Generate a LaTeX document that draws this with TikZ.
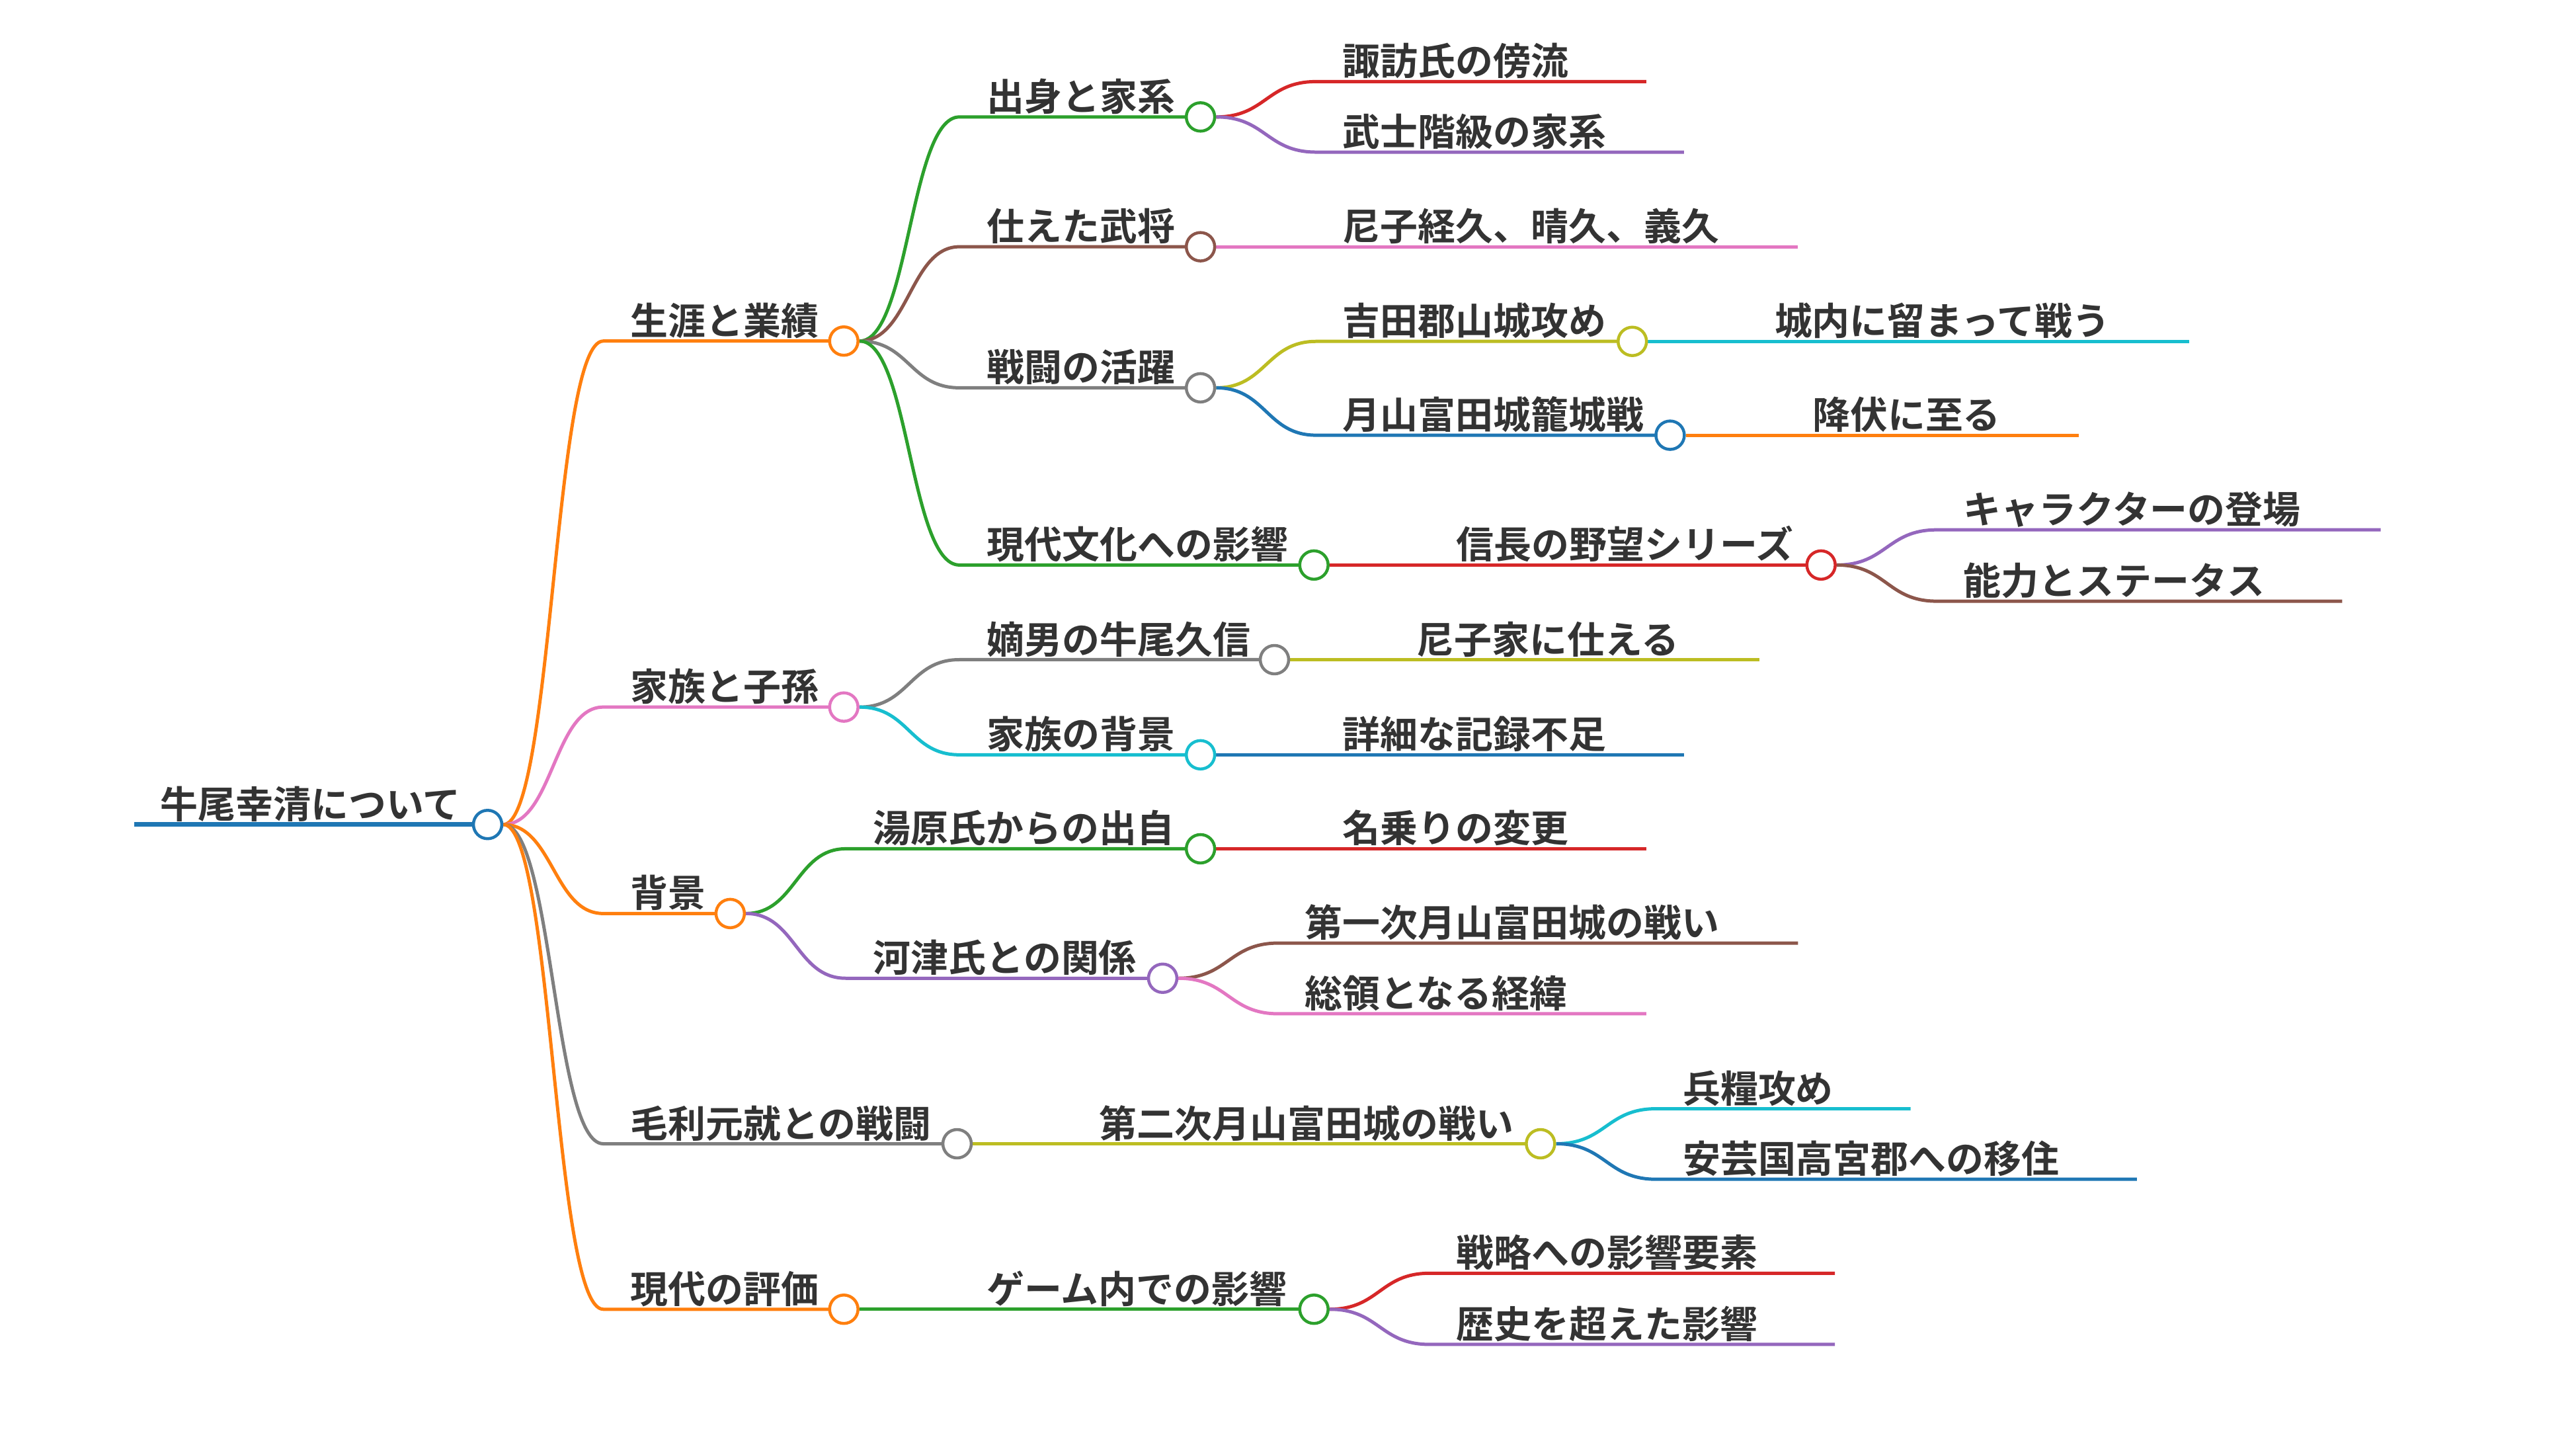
\documentclass[tikz,border=0pt]{standalone}
\usepackage{fontspec}
\newfontfamily\jpfont{Noto Sans CJK JP}[UprightFont=* Bold]
\usepackage{tikz}
\usetikzlibrary{positioning}

\definecolor{ink}{HTML}{333333}
\definecolor{c-blue}{HTML}{1F77B4}
\definecolor{c-orange}{HTML}{FF7F0E}
\definecolor{c-green}{HTML}{2CA02C}
\definecolor{c-red}{HTML}{D62728}
\definecolor{c-purple}{HTML}{9467BD}
\definecolor{c-brown}{HTML}{8C564B}
\definecolor{c-pink}{HTML}{E377C2}
\definecolor{c-gray}{HTML}{7F7F7F}
\definecolor{c-olive}{HTML}{BCBD22}
\definecolor{c-cyan}{HTML}{17BECF}

\pgfdeclarelayer{links}
\pgfsetlayers{links,main}

\begin{document}
\begin{tikzpicture}[x=1pt,y=-1pt,
    knob/.style={
% The shape:
circle, fill=white,
% The size:
minimum size=17.2pt, inner sep=0pt,
% The border:
line width=1.8pt, draw=#1,
},
    topic/.style={
% The text:
anchor=base west, inner sep=0pt, text=ink,
font=\jpfont\fontsize{22.8}{26}\selectfont,
},
    link/.style={
% The line:
line width=2pt, draw=#1,
},
]
  \useasboundingbox (0,0) rectangle (1560,873.3);

  % knobs
  \node[knob=c-blue]   (root)    at (295.3,499.2) {};
  \node[knob=c-orange] (life)    at (511,206.5) {};
  \node[knob=c-pink]   (family)  at (511,428.1) {};
  \node[knob=c-orange] (backg)   at (442.2,553.1) {};
  \node[knob=c-gray]   (mori)    at (579.6,692.5) {};
  \node[knob=c-orange] (modern)  at (511,792.7) {};
  \node[knob=c-green]  (origin)  at (727,70.8) {};
  \node[knob=c-brown]  (lords)   at (727,149.4) {};
  \node[knob=c-gray]   (battle)  at (727,234.8) {};
  \node[knob=c-green]  (culture) at (795.7,342.1) {};
  \node[knob=c-olive]  (yoshida) at (988.5,206.7) {};
  \node[knob=c-blue]   (toda)    at (1011.4,263.5) {};
  \node[knob=c-red]    (nobu)    at (1102.8,342.1) {};
  \node[knob=c-gray]   (heir)    at (771.8,399.4) {};
  \node[knob=c-cyan]   (famback) at (727,457.0) {};
  \node[knob=c-green]  (yubara)  at (727,513.9) {};
  \node[knob=c-purple] (kawazu)  at (704.1,592.3) {};
  \node[knob=c-olive]  (second)  at (932.9,692.5) {};
  \node[knob=c-green]  (game)    at (795.7,792.7) {};

  % texts
  \node[topic] (t-root)     at (97,495.4)     {牛尾幸清について};
  \node[topic] (t-life)     at (381.5,202.7)  {生涯と業績};
  \node[topic] (t-family)   at (381.5,424.3)  {家族と子孫};
  \node[topic] (t-backg)    at (381.5,549.3)  {背景};
  \node[topic] (t-mori)     at (381.5,688.7)  {毛利元就との戦闘};
  \node[topic] (t-modern)   at (381.5,788.9)  {現代の評価};
  \node[topic] (t-origin)   at (597.5,67)     {出身と家系};
  \node[topic] (t-lords)    at (597.5,145.6)  {仕えた武将};
  \node[topic] (t-battle)   at (597.5,231)    {戦闘の活躍};
  \node[topic] (t-culture)  at (597.5,338.3)  {現代文化への影響};
  \node[topic] (t-suwa)     at (813,45.6)     {諏訪氏の傍流};
  \node[topic] (t-bushi)    at (813,88.3)     {武士階級の家系};
  \node[topic] (t-amago)    at (813,145.6)    {尼子経久、晴久、義久};
  \node[topic] (t-yoshida)  at (813,202.9)    {吉田郡山城攻め};
  \node[topic] (t-joubu)    at (1074.5,202.9) {城内に留まって戦う};
  \node[topic] (t-toda)     at (813,259.7)    {月山富田城籠城戦};
  \node[topic] (t-kofuku)   at (1097.4,259.7) {降伏に至る};
  \node[topic] (t-nobu)     at (881.7,338.3)  {信長の野望シリーズ};
  \node[topic] (t-chara)    at (1188.8,317)   {キャラクターの登場};
  \node[topic] (t-stat)     at (1188.8,360.2) {能力とステータス};
  \node[topic] (t-heir)     at (597.5,395.6)  {嫡男の牛尾久信};
  \node[topic] (t-amagoke)  at (857.8,395.6)  {尼子家に仕える};
  \node[topic] (t-famback)  at (597.5,453.2)  {家族の背景};
  \node[topic] (t-kiroku)   at (813,453.2)    {詳細な記録不足};
  \node[topic] (t-yubara)   at (528.7,510.1)  {湯原氏からの出自};
  \node[topic] (t-nanori)   at (813,510.1)    {名乗りの変更};
  \node[topic] (t-kawazu)   at (528.7,588.5)  {河津氏との関係};
  \node[topic] (t-first)    at (790.1,567.2)  {第一次月山富田城の戦い};
  \node[topic] (t-soryo)    at (790.1,610)    {総領となる経緯};
  \node[topic] (t-second)   at (665.6,688.7)  {第二次月山富田城の戦い};
  \node[topic] (t-hyoro)    at (1018.9,667.5) {兵糧攻め};
  \node[topic] (t-aki)      at (1018.9,710.2) {安芸国高宮郡への移住};
  \node[topic] (t-game)     at (597.5,788.9)  {ゲーム内での影響};
  \node[topic] (t-senryaku) at (881.7,767.1)  {戦略への影響要素};
  \node[topic] (t-rekishi)  at (881.7,810.2)  {歴史を超えた影響};

  % line ends
  \coordinate (root-start)   at (81.2,499.2);
  \coordinate (suwa-end)     at (997,49.4);
  \coordinate (bushi-end)    at (1019.8,92.1);
  \coordinate (amago-end)    at (1088.9,149.4);
  \coordinate (joubu-end)    at (1325.9,206.7);
  \coordinate (kofuku-end)   at (1258.8,263.5);
  \coordinate (chara-end)    at (1441.7,320.8);
  \coordinate (stat-end)     at (1418.4,364.0);
  \coordinate (amagoke-end)  at (1065.5,399.4);
  \coordinate (kiroku-end)   at (1019.8,457.0);
  \coordinate (nanori-end)   at (997,513.9);
  \coordinate (first-end)    at (1088.9,571.0);
  \coordinate (soryo-end)    at (997,613.8);
  \coordinate (hyoro-end)    at (1157,671.3);
  \coordinate (aki-end)      at (1294.1,714.0);
  \coordinate (senryaku-end) at (1111.2,770.9);
  \coordinate (rekishi-end)  at (1111.2,814.0);

  \begin{pgfonlayer}{links}
  \draw[link=c-blue, line width=2.7pt] (root-start) -- (root.center);
  \draw[link=c-orange] (root.east) .. controls +(30,0) and +(-30,0) .. (365.3,206.5) -- (life.center);
  \draw[link=c-pink]   (root.east) .. controls +(30,0) and +(-30,0) .. (365.3,428.1) -- (family.center);
  \draw[link=c-orange] (root.east) .. controls +(30,0) and +(-30,0) .. (365.3,553.1) -- (backg.center);
  \draw[link=c-gray]   (root.east) .. controls +(30,0) and +(-30,0) .. (365.3,692.5) -- (mori.center);
  \draw[link=c-orange] (root.east) .. controls +(30,0) and +(-30,0) .. (365.3,792.7) -- (modern.center);

  \draw[link=c-green]  (life.east) .. controls +(30,0) and +(-30,0) .. (581,70.8) -- (origin.center);
  \draw[link=c-brown]  (life.east) .. controls +(30,0) and +(-30,0) .. (581,149.4) -- (lords.center);
  \draw[link=c-gray]   (life.east) .. controls +(30,0) and +(-30,0) .. (581,234.8) -- (battle.center);
  \draw[link=c-green]  (life.east) .. controls +(30,0) and +(-30,0) .. (581,342.1) -- (culture.center);

  \draw[link=c-red]    (origin.east) .. controls +(30,0) and +(-30,0) .. (797,49.4) -- (suwa-end);
  \draw[link=c-purple] (origin.east) .. controls +(30,0) and +(-30,0) .. (797,92.1) -- (bushi-end);
  \draw[link=c-pink]   (lords.east) -- (amago-end);
  \draw[link=c-olive]  (battle.east) .. controls +(30,0) and +(-30,0) .. (797,206.7) -- (yoshida.center);
  \draw[link=c-blue]   (battle.east) .. controls +(30,0) and +(-30,0) .. (797,263.5) -- (toda.center);
  \draw[link=c-cyan]   (yoshida.east) -- (joubu-end);
  \draw[link=c-orange] (toda.east) -- (kofuku-end);
  \draw[link=c-red]    (culture.east) -- (nobu.center);
  \draw[link=c-purple] (nobu.east) .. controls +(30,0) and +(-30,0) .. (1172.8,320.8) -- (chara-end);
  \draw[link=c-brown]  (nobu.east) .. controls +(30,0) and +(-30,0) .. (1172.8,364.0) -- (stat-end);

  \draw[link=c-gray]   (family.east) .. controls +(30,0) and +(-30,0) .. (581,399.4) -- (heir.center);
  \draw[link=c-cyan]   (family.east) .. controls +(30,0) and +(-30,0) .. (581,457.0) -- (famback.center);
  \draw[link=c-olive]  (heir.east) -- (amagoke-end);
  \draw[link=c-blue]   (famback.east) -- (kiroku-end);

  \draw[link=c-green]  (backg.east) .. controls +(30,0) and +(-30,0) .. (512.2,513.9) -- (yubara.center);
  \draw[link=c-purple] (backg.east) .. controls +(30,0) and +(-30,0) .. (512.2,592.3) -- (kawazu.center);
  \draw[link=c-red]    (yubara.east) -- (nanori-end);
  \draw[link=c-brown]  (kawazu.east) .. controls +(30,0) and +(-30,0) .. (774.1,571.0) -- (first-end);
  \draw[link=c-pink]   (kawazu.east) .. controls +(30,0) and +(-30,0) .. (774.1,613.8) -- (soryo-end);

  \draw[link=c-olive]  (mori.east) -- (second.center);
  \draw[link=c-cyan]   (second.east) .. controls +(30,0) and +(-30,0) .. (1002.9,671.3) -- (hyoro-end);
  \draw[link=c-blue]   (second.east) .. controls +(30,0) and +(-30,0) .. (1002.9,714.0) -- (aki-end);

  \draw[link=c-green]  (modern.east) -- (game.center);
  \draw[link=c-red]    (game.east) .. controls +(30,0) and +(-30,0) .. (865.7,770.9) -- (senryaku-end);
  \draw[link=c-purple] (game.east) .. controls +(30,0) and +(-30,0) .. (865.7,814.0) -- (rekishi-end);
  \end{pgfonlayer}

\end{tikzpicture}
\end{document}
